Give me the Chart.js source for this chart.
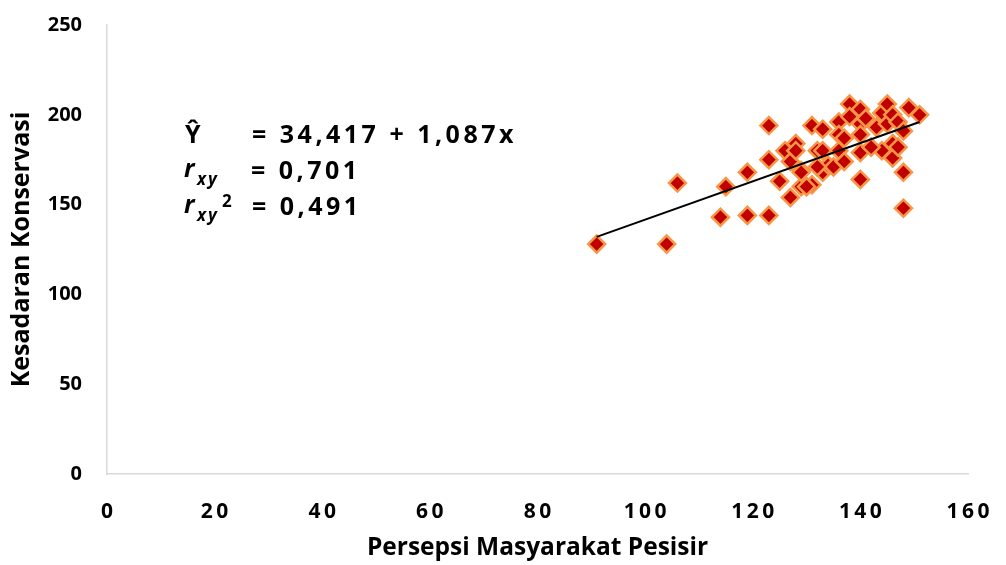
<!DOCTYPE html>
<html>
<head>
<meta charset="utf-8">
<script src="https://cdn.jsdelivr.net/npm/chart.js@4.4.0/dist/chart.umd.min.js"></script>
<style>
  body { margin: 0; background: #fff; }
  #wrap { width: 1006px; height: 565px; position: relative; }
</style>
</head>
<body>
<div id="wrap"><canvas id="scatter"></canvas></div>
<script>
// Persepsi Masyarakat Pesisir (X) vs Kesadaran Konservasi (Y)
const persepsi = [91, 104, 106, 114, 115, 119, 119, 123, 123, 123,
                  125, 126, 127, 127, 128, 128, 129, 129, 131, 131,
                  133, 132, 133, 133, 134, 135, 136, 136, 137, 136,
                  137, 138, 140, 138, 140, 140, 140, 140, 141, 143,
                  144, 145, 144, 145, 146, 146, 146, 147, 147, 148,
                  148, 148, 149, 151, 130, 132, 129, 142];
const kesadaran = [128, 128, 162, 143, 160, 168, 144, 194, 175, 144,
                   163, 180, 174, 154, 184, 180, 169, 160, 161, 194,
                   192, 180, 180, 168, 172, 171, 196, 189, 187, 180,
                   174, 206, 203, 199, 195, 189, 179, 164, 198, 193,
                   201, 206, 180, 195, 200, 184, 176, 182, 196, 191,
                   168, 148, 204, 200, 160, 171, 168, 182];

// trend line ends as seen on the chart
const trendX = [91, 151];
const trendY = [132, 196];

const xTicks = [0, 20, 40, 60, 80, 100, 120, 140, 160];
const yTicks = [0, 50, 100, 150, 200, 250];

const statLines = ['= 34,417 + 1,087x', '= 0,701', '= 0,491'];

const points = persepsi.map((x, i) => ({ x: x, y: kesadaran[i] }));
const trend = trendX.map((x, i) => ({ x: x, y: trendY[i] }));

const FONT = '"Open Sans", "DejaVu Sans", sans-serif';

// regression text drawn in the upper left of the plot
const statsText = {
    id: 'statsText',
    afterDraw(chart) {
        const ctx = chart.ctx;
        ctx.save();
        ctx.fillStyle = '#000';
        ctx.textBaseline = 'alphabetic';
        ctx.textAlign = 'left';

        ctx.font = 'bold 25px ' + FONT;
        ctx.letterSpacing = '0px';
        ctx.fillText('\u0176', 185, 143);

        ctx.font = 'bold italic 25px ' + FONT;
        ctx.fillText('r', 184, 177);
        ctx.fillText('r', 184, 213);

        ctx.font = 'bold italic 17px ' + FONT;
        ctx.letterSpacing = '2px';
        ctx.fillText('xy', 197, 185);
        ctx.fillText('xy', 197, 221);

        ctx.font = 'bold 17px ' + FONT;
        ctx.fillText('2', 222, 207);

        ctx.font = 'bold 25px ' + FONT;
        ctx.letterSpacing = '3.5px';
        ctx.fillText(statLines[0], 252, 143);
        ctx.fillText(statLines[1], 251, 179);
        ctx.fillText(statLines[2], 252, 215);
        ctx.restore();
    }
};

// keep the plot box where the original has it
function fixX(scale) {
    scale.height = 91;
    scale.paddingLeft = 0;
    scale.paddingRight = 0;
}
function fixY(scale) {
    scale.width = 107;
    scale.paddingTop = 0;
    scale.paddingBottom = 0;
}

document.addEventListener('DOMContentLoaded', function() {
    const ctx = document.getElementById('scatter');
    new Chart(ctx, {
        type: 'scatter',
        data: {
            datasets: [{
                type: 'line',
                label: 'Trend',
                data: trend,
                borderColor: '#000',
                borderWidth: 2,
                pointRadius: 0,
                fill: false
            }, {
                label: 'Data',
                data: points,
                pointStyle: 'rectRot',
                pointRadius: 8.5,
                pointHoverRadius: 8.5,
                backgroundColor: '#C00000',
                borderColor: '#F79646',
                borderWidth: 2.5
            }]
        },
        options: {
            responsive: true,
            maintainAspectRatio: false,
            devicePixelRatio: 1,
            animation: false,
            layout: { padding: { top: 25, right: 38, left: 0, bottom: 0 } },
            plugins: {
                legend: { display: false },
                tooltip: { enabled: false }
            },
            scales: {
                x: {
                    type: 'linear',
                    min: xTicks[0],
                    max: xTicks[xTicks.length - 1],
                    afterBuildTicks: function(scale) {
                        scale.ticks = xTicks.map(v => ({ value: v }));
                    },
                    afterFit: fixX,
                    grid: { display: false, drawTicks: false },
                    border: { display: true, color: '#d9d9d9', width: 1.5 },
                    ticks: {
                        padding: 25,
                        color: '#000',
                        font: { family: FONT, size: 21, weight: 'bold' },
                        callback: v => String(v).split('').join('\u2009')
                    },
                    title: {
                        display: true,
                        text: 'Persepsi Masyarakat Pesisir',
                        color: '#000',
                        font: { family: FONT, size: 24.5, weight: 'bold' },
                        padding: { top: 0, bottom: 2 }
                    }
                },
                y: {
                    type: 'linear',
                    min: yTicks[0],
                    max: yTicks[yTicks.length - 1],
                    afterBuildTicks: function(scale) {
                        scale.ticks = yTicks.map(v => ({ value: v }));
                    },
                    afterFit: fixY,
                    grid: { display: false, drawTicks: false },
                    border: { display: true, color: '#d9d9d9', width: 1.5 },
                    ticks: {
                        padding: 25,
                        color: '#000',
                        font: { family: FONT, size: 20, weight: 'bold' }
                    },
                    title: {
                        display: true,
                        text: 'Kesadaran Konservasi',
                        color: '#000',
                        font: { family: FONT, size: 25, weight: 'bold' },
                        padding: { top: 7, bottom: 0 }
                    }
                }
            }
        },
        plugins: [statsText]
    });
});
</script>
</body>
</html>
